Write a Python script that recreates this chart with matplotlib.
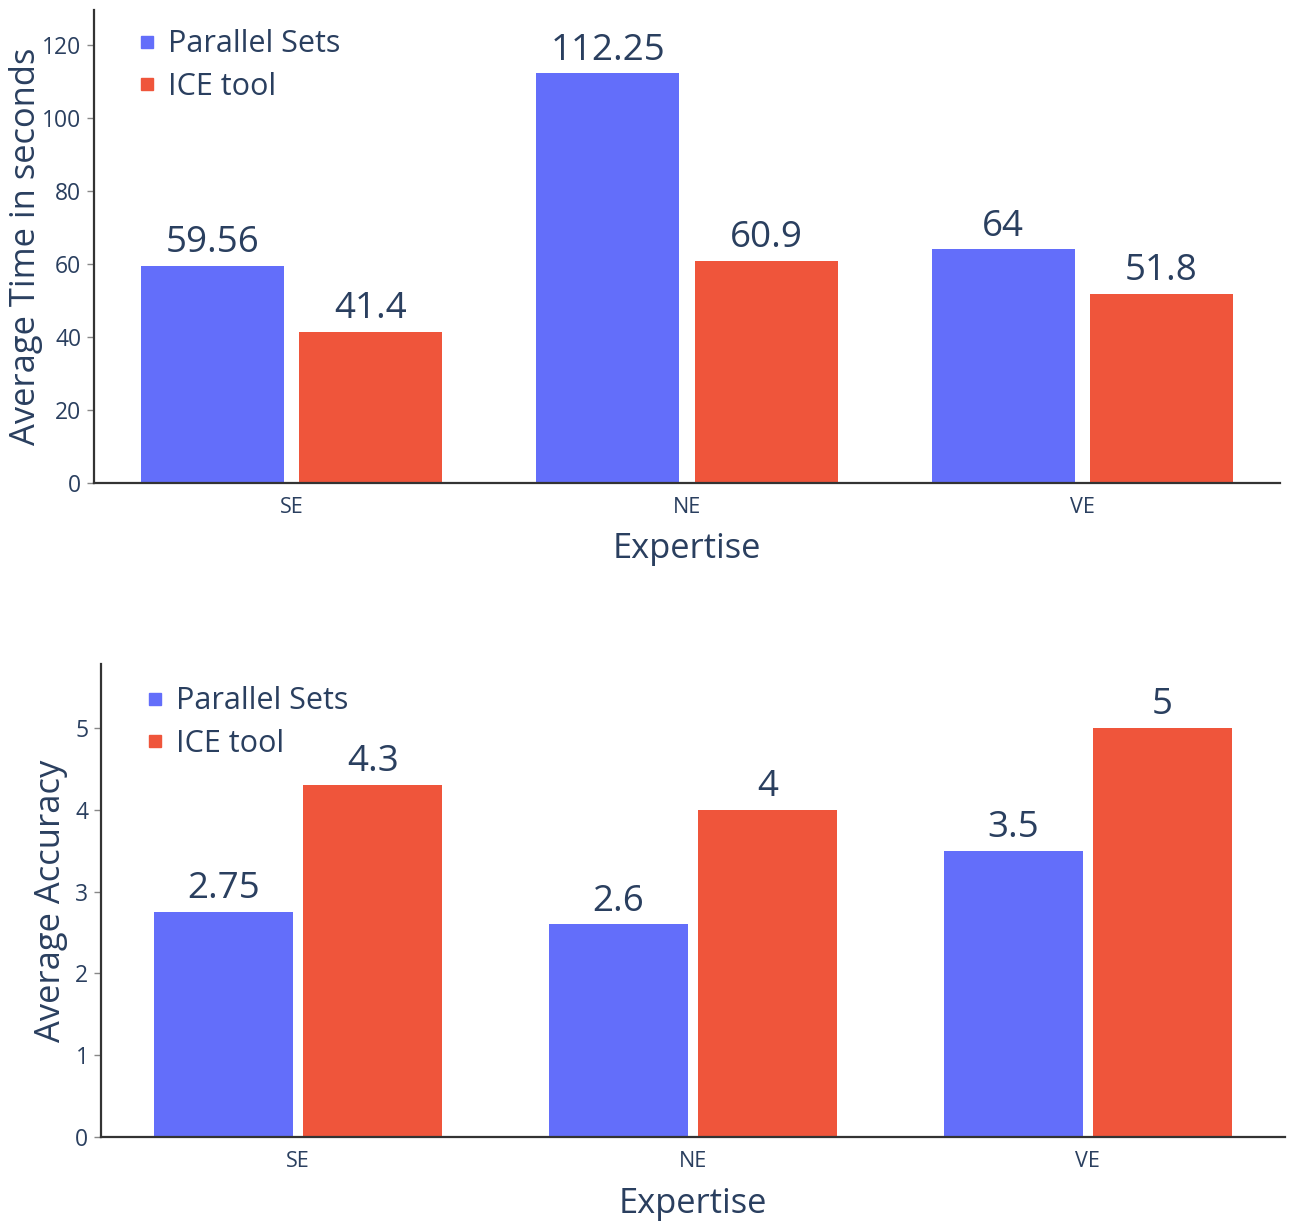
import matplotlib
matplotlib.use("Agg")
import matplotlib.pyplot as plt
from matplotlib.lines import Line2D
import numpy as np

plt.rcParams['font.family'] = ['Open Sans', 'DejaVu Sans']

categories = ["SE", "NE", "VE"]
series_names = ["Parallel Sets", "ICE tool"]
time_parallel = [59.56, 112.25, 64]
time_ice = [41.4, 60.9, 51.8]
acc_parallel = [2.75, 2.6, 3.5]
acc_ice = [4.3, 4, 5]
time_labels = ["59.56", "112.25", "64"]
time_ice_labels = ["41.4", "60.9", "51.8"]
acc_labels = ["2.75", "2.6", "3.5"]
acc_ice_labels = ["4.3", "4", "5"]
time_ticks = [0, 20, 40, 60, 80, 100, 120]
acc_ticks = [0, 1, 2, 3, 4, 5]

BLUE = "#636EFA"
RED = "#EF553B"
TXT = "#2a3f5f"

fig = plt.figure(figsize=(12.96, 12.27), dpi=100)
ax1 = fig.add_axes([0.0725, 0.6064, 0.9152, 0.3855])
ax2 = fig.add_axes([0.0779, 0.0733, 0.9136, 0.3855])


def draw(ax, vals_a, vals_b, labs_a, labs_b, ticks, ylim, ylabel, width, offset, ylab_x, leg_anchor, xlpad):
    x = np.arange(len(categories))
    ax.bar(x - offset, vals_a, width, color=BLUE, label=series_names[0])
    ax.bar(x + offset, vals_b, width, color=RED, label=series_names[1])
    pad = ylim * 0.01
    for xi, v, t in zip(x - offset, vals_a, labs_a):
        ax.text(xi, v + pad, t, ha="center", va="bottom", fontsize=26.5, color=TXT)
    for xi, v, t in zip(x + offset, vals_b, labs_b):
        ax.text(xi, v + pad, t, ha="center", va="bottom", fontsize=26.5, color=TXT)
    ax.set_xlim(-0.5, 2.5)
    ax.set_ylim(0, ylim)
    ax.set_xticks(x)
    ax.set_xticklabels(categories)
    ax.set_yticks(ticks)
    ax.tick_params(axis="x", length=0, pad=10, labelsize=15.5, labelcolor=TXT)
    ax.tick_params(axis="y", length=5, width=1, color="#888888", pad=4, labelsize=16.5, labelcolor=TXT)
    for s in ["top", "right"]:
        ax.spines[s].set_visible(False)
    for s in ["left", "bottom"]:
        ax.spines[s].set_color("#333333")
        ax.spines[s].set_linewidth(1.6)
    ax.set_ylabel(ylabel, fontsize=24.8, color=TXT)
    ax.yaxis.set_label_coords(ylab_x, 0.5)
    ax.set_xlabel("Expertise", fontsize=24.8, color=TXT, labelpad=xlpad)
    handles = [Line2D([], [], marker="s", linestyle="none", markersize=8.5, color=c) for c in (BLUE, RED)]
    leg = ax.legend(handles, series_names, loc="upper left", bbox_to_anchor=leg_anchor,
                    frameon=False, fontsize=22, handlelength=0.5, handletextpad=0.44,
                    labelspacing=0.42, borderaxespad=0)
    for t in leg.get_texts():
        t.set_color(TXT)


draw(ax1, time_parallel, time_ice, time_labels, time_ice_labels, time_ticks, 129.6,
     "Average Time in seconds", 0.362, 0.2, -0.043, (0.028, 0.985), 10)
draw(ax2, acc_parallel, acc_ice, acc_labels, acc_ice_labels, acc_ticks, 5.78,
     "Average Accuracy", 0.352, 0.189, -0.028, (0.029, 0.979), 11)

fig.savefig("out.png", dpi=100, facecolor="white")
